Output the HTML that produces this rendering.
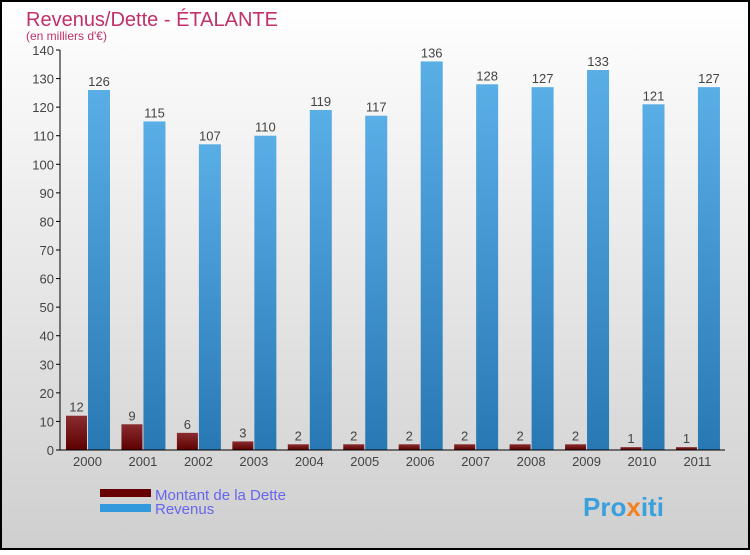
<!DOCTYPE html>
<html><head><meta charset="utf-8"><style>
body{margin:0;}
#c{width:750px;height:550px;position:relative;}
text{font-family:"Liberation Sans",sans-serif;}
</style></head><body>
<div id="c">
<svg id="s" width="750" height="550" xmlns="http://www.w3.org/2000/svg">
<defs>
<linearGradient id="bg" x1="0" y1="0" x2="0" y2="1"><stop offset="0" stop-color="#ffffff"/><stop offset="1" stop-color="#cfcfcf"/></linearGradient>
<linearGradient id="gd" x1="0" y1="0" x2="0" y2="1"><stop offset="0" stop-color="#8a2c30"/><stop offset="1" stop-color="#5c0000"/></linearGradient>
<linearGradient id="gr" x1="0" y1="0" x2="0" y2="1"><stop offset="0" stop-color="#5aaee6"/><stop offset="1" stop-color="#2878b4"/></linearGradient>
</defs>
<rect x="1" y="1" width="748" height="548" fill="url(#bg)" stroke="#000" stroke-width="2"/>
<text x="26" y="26" font-size="20" fill="#c0306a">Revenus/Dette - ÉTALANTE</text>
<text x="26" y="40" font-size="12" fill="#c0306a">(en milliers d'€)</text>
<g id="plot"></g>
<rect x="100" y="489" width="51" height="8" fill="#660000"/>
<text x="155" y="500" font-size="15" fill="#6666ee">Montant de la Dette</text>
<rect x="100" y="504" width="51" height="8" fill="#3399dd"/>
<text x="155" y="514" font-size="15" fill="#6666ee">Revenus</text>
<text x="583" y="516" font-size="26" font-weight="bold" fill="#3aa0dd">Pro<tspan fill="#f08020">x</tspan>iti</text>
</svg>
</div>
<script>
const years=["2000","2001","2002","2003","2004","2005","2006","2007","2008","2009","2010","2011"];
const dette=[12,9,6,3,2,2,2,2,2,2,1,1];
const revenus=[126,115,107,110,119,117,136,128,127,133,121,127];
const yTicks=[0,10,20,30,40,50,60,70,80,90,100,110,120,130,140];
const NS="http://www.w3.org/2000/svg";
const g=document.getElementById('plot');
const y=v=>450-v*400/140;
const xc=i=>87.5+i*55.45;
function el(t,a,txt){const e=document.createElementNS(NS,t);for(const k in a)e.setAttribute(k,a[k]);if(txt!==undefined)e.textContent=txt;g.appendChild(e);return e;}
yTicks.forEach(t=>{
 const l=el('line',{x1:56,x2:60,y1:y(t),y2:y(t),stroke:'#000'});
 
 const tx=el('text',{x:54,y:y(t)+5,'text-anchor':'end','font-size':13,fill:'#444'},t);
 
});
years.forEach((yr,i)=>{
 const c=xc(i);
 const b1=el('rect',{x:c-21.5,y:y(dette[i]),width:21,height:450-y(dette[i]),fill:'url(#gd)'});
 
 const t1=el('text',{x:c-11,y:y(dette[i])-4,'text-anchor':'middle','font-size':13,fill:'#444'},dette[i]);
 
 const b2=el('rect',{x:c+0.5,y:y(revenus[i]),width:22,height:450-y(revenus[i]),fill:'url(#gr)'});
 
 const t2=el('text',{x:c+11.5,y:y(revenus[i])-4,'text-anchor':'middle','font-size':13,fill:'#444'},revenus[i]);
 
 const xl=el('text',{x:c,y:466,'text-anchor':'middle','font-size':13,fill:'#444'},yr);
 
});
const ya=el('line',{x1:60,x2:60,y1:50,y2:450,stroke:'#000'});

const xa=el('line',{x1:56,x2:725,y1:450,y2:450,stroke:'#000'});

</script>
</body></html>
